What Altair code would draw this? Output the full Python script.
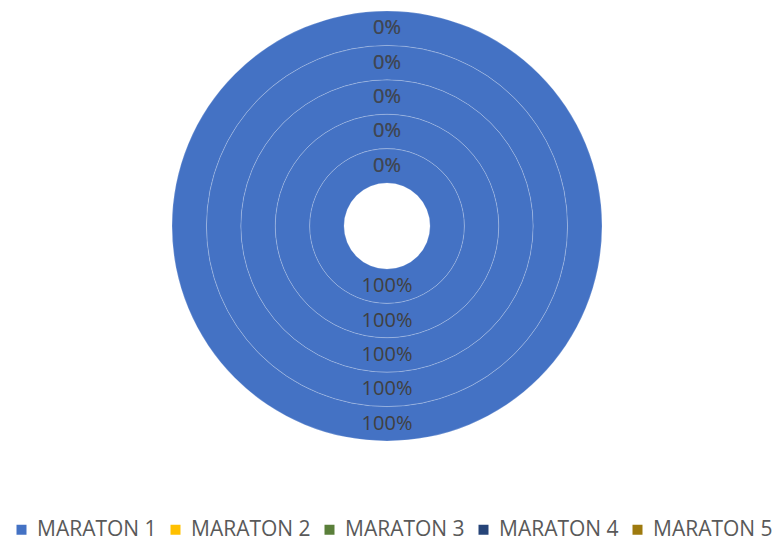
import altair as alt
import pandas as pd

categories = ["MARATON 1", "MARATON 2", "MARATON 3", "MARATON 4", "MARATON 5"]
rings = [1, 2, 3, 4, 5]
ring_shares = [
    [1.0, 0.0, 0.0, 0.0, 0.0],
    [1.0, 0.0, 0.0, 0.0, 0.0],
    [1.0, 0.0, 0.0, 0.0, 0.0],
    [1.0, 0.0, 0.0, 0.0, 0.0],
    [1.0, 0.0, 0.0, 0.0, 0.0],
]
colors = ["#4472C4", "#FFC000", "#5A7F3A", "#264478", "#9E7A0E"]

rows = []
for r, vals in zip(rings, ring_shares):
    for i, (c, v) in enumerate(zip(categories, vals)):
        rows.append({"ring": r, "order": i, "category": c, "share": v})
df = pd.DataFrame(rows)

rscale = alt.Scale(domain=[0, 5], range=[43, 215], zero=False)
tscale = alt.Scale(domain=[0, 1])

base = alt.Chart(df).transform_stack(
    stack="share", groupby=["ring"], as_=["v0", "v1"],
    sort=[alt.SortField("order", order="ascending")]
).transform_calculate(
    r0="datum.ring - 1",
    r1="datum.ring",
    rmid="datum.ring - 0.5",
    vmid="(datum.v0 + datum.v1) / 2",
    label="format(datum.share, '.0%')",
)

arcs = base.transform_filter("datum.share > 0").mark_arc(
    stroke="#ffffff", strokeOpacity=0.2, strokeWidth=1
).encode(
    theta=alt.Theta("v0:Q", scale=tscale),
    theta2="v1:Q",
    radius=alt.Radius("r1:Q", scale=rscale),
    radius2="r0:Q",
    color=alt.Color(
        "category:N",
        scale=alt.Scale(domain=categories, range=colors),
        legend=alt.Legend(
            orient="none", legendX=11, legendY=519, direction="horizontal",
            columns=5, title=None, symbolType="square", symbolSize=100,
            symbolStrokeWidth=0, labelFont="Open Sans", labelFontSize=21,
            labelColor="#595959", labelOffset=5, columnPadding=8,
            labelLimit=200,
        ),
    ),
)

labels = base.mark_text(
    font="Open Sans", fontSize=20, color="#404040"
).encode(
    theta=alt.Theta("vmid:Q", scale=tscale),
    radius=alt.Radius("rmid:Q", scale=rscale),
    text="label:N",
    opacity=alt.condition("datum.share == 0", alt.value(0.4), alt.value(1.0)),
)

chart = alt.layer(arcs, labels).properties(
    width=774, height=452, padding=0
).configure_view(stroke=None)

chart.save("out.html", embed_options={"renderer": "svg", "actions": False})
